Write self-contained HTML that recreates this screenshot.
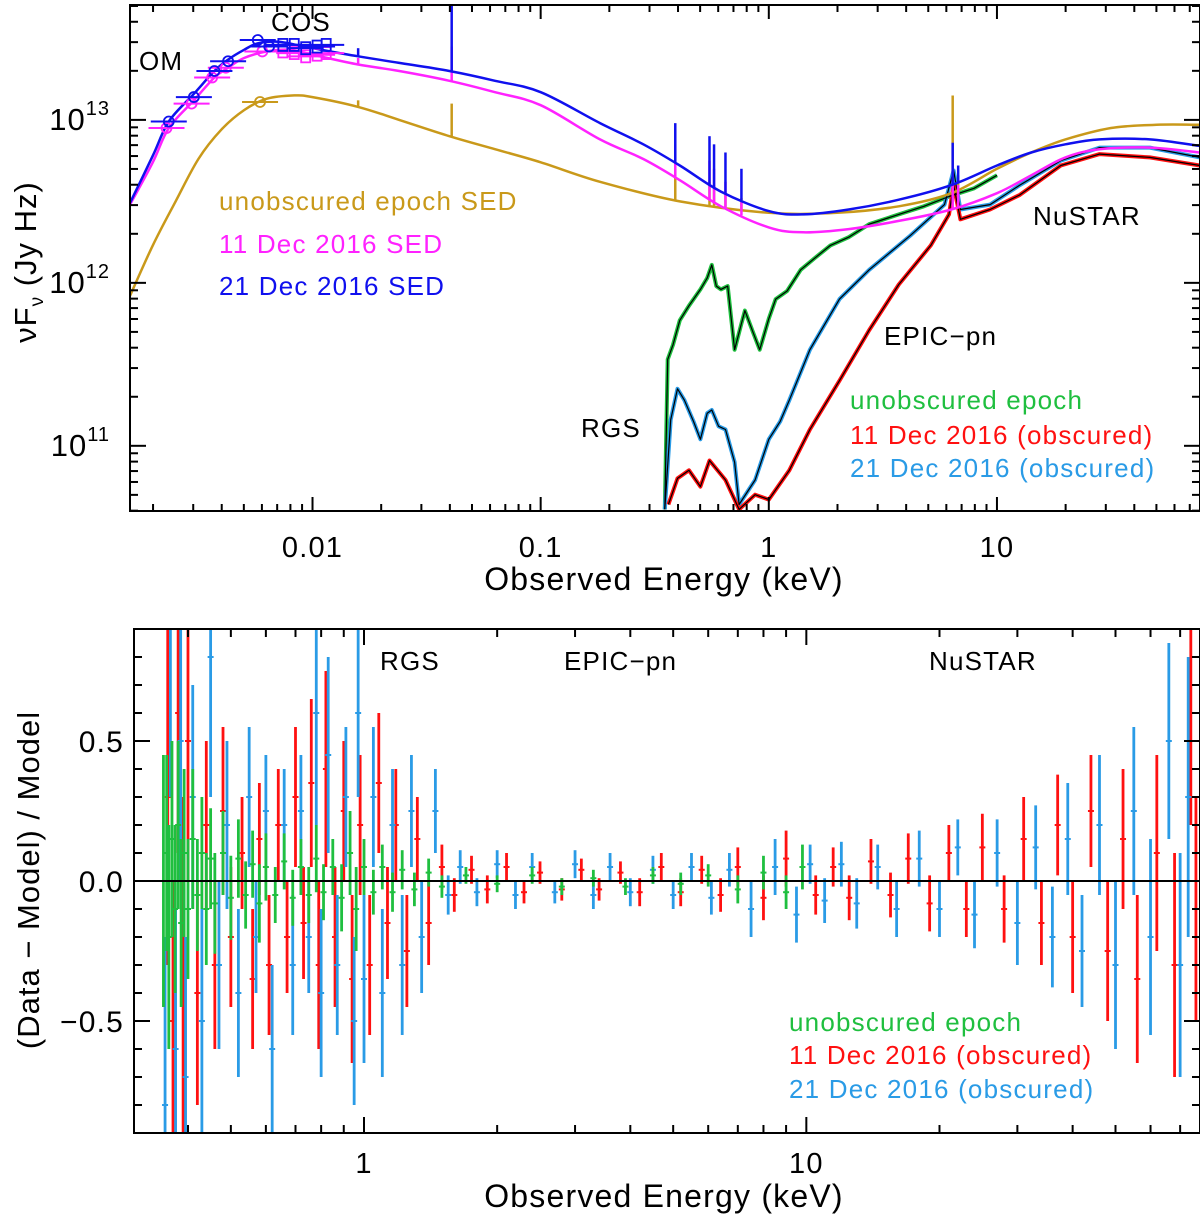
<!DOCTYPE html>
<html><head><meta charset="utf-8"><style>
body{margin:0;background:#fff;}
svg{display:block;font-family:"Liberation Sans",sans-serif;}
</style></head><body>
<svg id="chart" width="1200" height="1220" viewBox="0 0 1200 1220" xmlns="http://www.w3.org/2000/svg"></svg>
<script>
// ---------- TOP PANEL DATA (log10 keV, log10 Jy Hz) ----------
const blueModelE=[-2.80,-2.70,-2.63,-2.52,-2.43,-2.37,-2.30,-2.24,-2.15,-2.00,-1.80,-1.62,-1.40,-1.20,-1.00,-0.74,-0.55,-0.39,-0.21,0.00,0.15,0.35,0.57,0.80,1.00,1.15,1.30,1.45,1.67,1.89];
const blueModelF=[12.49,12.78,12.99,13.16,13.30,13.37,13.43,13.47,13.48,13.44,13.39,13.35,13.30,13.24,13.17,12.98,12.85,12.72,12.56,12.44,12.42,12.45,12.51,12.60,12.72,12.80,12.85,12.88,12.88,12.84];
const magModelE=[-2.80,-2.70,-2.63,-2.52,-2.43,-2.37,-2.30,-2.20,-2.10,-2.00,-1.80,-1.62,-1.40,-1.20,-1.00,-0.74,-0.55,-0.39,-0.21,0.00,0.15,0.35,0.57,0.80,1.00,1.15,1.30,1.45,1.67,1.89];
const magModelF=[12.48,12.74,12.95,13.12,13.26,13.32,13.38,13.42,13.43,13.40,13.34,13.30,13.24,13.17,13.09,12.88,12.76,12.63,12.47,12.34,12.31,12.33,12.38,12.45,12.55,12.66,12.77,12.82,12.83,12.80];
const goldModelE=[-2.80,-2.70,-2.60,-2.50,-2.40,-2.30,-2.20,-2.08,-2.00,-1.80,-1.62,-1.40,-1.20,-1.00,-0.74,-0.39,0.00,0.30,0.57,0.80,1.00,1.15,1.30,1.50,1.70,1.89];
const goldModelF=[11.92,12.23,12.50,12.76,12.94,13.06,13.13,13.15,13.14,13.08,13.00,12.90,12.82,12.74,12.62,12.50,12.43,12.43,12.47,12.55,12.70,12.80,12.88,12.95,12.97,12.97];
const lineE=[-1.80,-1.39,-0.41,-0.26,-0.24,-0.19,-0.12,0.806,0.83];
const blueLineF=[13.44,13.70,12.98,12.90,12.85,12.80,12.70,12.86,12.72];
const magLineF=[13.38,13.45,12.85,12.75,12.70,12.62,12.50,12.66,12.60];
const goldLineF=[13.12,13.10,12.70,12.62,12.60,12.55,12.52,13.15,12.66];
const greenE=[-0.456,-0.443,-0.42,-0.39,-0.35,-0.30,-0.27,-0.25,-0.23,-0.21,-0.18,-0.15,-0.12,-0.105,-0.07,-0.04,0.0,0.03,0.08,0.14,0.20,0.27,0.35,0.44,0.57,0.68,0.79,0.90,1.00];
const greenF=[10.61,11.53,11.62,11.77,11.86,11.96,12.03,12.11,11.98,11.96,11.98,11.59,11.75,11.83,11.70,11.59,11.78,11.90,11.95,12.08,12.15,12.23,12.28,12.36,12.42,12.47,12.53,12.58,12.66];
const ltblueE=[-0.456,-0.43,-0.40,-0.37,-0.33,-0.30,-0.27,-0.25,-0.22,-0.19,-0.15,-0.13,-0.06,0.00,0.05,0.09,0.18,0.31,0.44,0.62,0.77,0.81,0.84,0.97,1.10,1.28,1.45,1.67,1.89];
const ltblueF=[10.61,11.16,11.35,11.28,11.15,11.04,11.20,11.22,11.12,11.10,10.90,10.64,10.79,11.04,11.15,11.28,11.59,11.90,12.08,12.29,12.48,12.69,12.45,12.48,12.60,12.75,12.83,12.83,12.77];
const redE=[-0.44,-0.40,-0.35,-0.30,-0.26,-0.19,-0.13,-0.06,0.00,0.09,0.18,0.31,0.44,0.57,0.71,0.79,0.81,0.84,0.97,1.10,1.28,1.45,1.67,1.89];
const redF=[10.64,10.80,10.85,10.75,10.91,10.79,10.61,10.70,10.67,10.85,11.10,11.40,11.71,11.99,12.23,12.42,12.60,12.39,12.45,12.54,12.72,12.79,12.77,12.72];
const omBlueE=[-2.63,-2.52,-2.43,-2.37,-2.24,-2.19];
const omBlueF=[12.99,13.14,13.30,13.36,13.49,13.45];
const omMagE=[-2.64,-2.53,-2.44,-2.38,-2.22];
const omMagF=[12.95,13.10,13.26,13.32,13.42];
const cosBlueE=[-2.13,-2.08,-2.03,-1.98,-1.94];
const cosBlueF=[13.46,13.46,13.44,13.45,13.46];
const cosMagE=[-2.13,-2.08,-2.03,-1.98,-1.94];
const cosMagF=[13.42,13.41,13.39,13.40,13.41];
const goldPtE=[-2.23]; const goldPtF=[13.11];
const topXTicks=["0.01","0.1","1","10"]; const topXTickLog=[-2,-1,0,1];
const topYTickExp=["11","12","13"];
// ---------- BOTTOM PANEL DATA (keV, residual, error) ----------
const redRE=[0.36,0.37,0.38,0.39,0.40,0.42,0.44,0.46,0.48,0.50,0.53,0.56,0.58,0.61,0.64,0.67,0.70,0.73,0.76,0.79,0.82,0.86,0.90,0.94,0.98,1.03,1.08,1.13,1.18,1.25,1.32,1.40,1.5,1.6,1.75,1.9,2.1,2.3,2.5,2.8,3.1,3.4,3.8,4.2,4.7,5.2,5.8,6.4,7.0,8.0,9.0,10.5,11.5,12.5,14,15.5,17,19,21,23,25,28,31,34,37,40,44,48,52,56,62,68,74,76];
const redR=[0.3,-0.5,0.6,-0.3,0.5,-0.4,0.2,-0.3,0.25,-0.2,0.1,-0.35,0.15,-0.3,0.2,-0.2,0.3,-0.15,0.35,-0.3,0.4,-0.2,0.25,-0.35,0.2,-0.3,0.35,-0.15,0.2,-0.25,0.15,-0.15,0.05,-0.05,0.04,-0.03,0.05,-0.04,0.03,-0.03,0.04,-0.03,0.03,-0.04,0.05,-0.04,0.04,-0.05,0.05,-0.06,0.08,-0.05,0.05,-0.06,0.07,-0.05,0.08,-0.08,0.1,-0.1,0.12,-0.1,0.15,-0.15,0.2,-0.2,0.25,-0.25,0.15,-0.35,0.1,-0.3,0.6,-0.1];
const redErr=[0.6,0.5,0.5,0.6,0.5,0.4,0.3,0.3,0.3,0.25,0.2,0.25,0.2,0.25,0.2,0.2,0.25,0.2,0.3,0.3,0.35,0.25,0.25,0.3,0.25,0.25,0.25,0.2,0.2,0.2,0.15,0.15,0.08,0.06,0.05,0.05,0.05,0.04,0.04,0.04,0.04,0.04,0.04,0.05,0.05,0.05,0.05,0.06,0.07,0.08,0.1,0.07,0.07,0.08,0.08,0.08,0.09,0.1,0.1,0.1,0.12,0.12,0.15,0.15,0.18,0.2,0.2,0.25,0.25,0.3,0.35,0.4,0.4,0.4];
const bluRE=[0.355,0.365,0.375,0.385,0.395,0.41,0.43,0.45,0.47,0.49,0.52,0.55,0.57,0.60,0.62,0.66,0.69,0.72,0.75,0.78,0.80,0.83,0.87,0.91,0.95,0.97,1.0,1.05,1.1,1.16,1.22,1.28,1.35,1.45,1.55,1.65,1.8,2.0,2.2,2.4,2.7,3.0,3.3,3.6,4.0,4.5,5.0,5.5,6.1,6.7,7.5,8.5,9.5,10.2,11,12,13,14.5,16,18,20,22,24,27,30,33,36,39,42,46,50,55,60,66,70,73];
const bluR=[-0.8,0.9,-0.6,0.5,-0.7,0.3,-0.5,0.8,-0.3,0.2,-0.4,0.3,-0.2,0.25,-0.6,0.2,-0.3,0.25,-0.2,0.6,-0.4,0.45,-0.3,0.3,-0.5,0.6,-0.35,0.3,-0.4,0.2,-0.3,0.25,-0.2,0.25,-0.05,0.05,-0.04,0.06,-0.05,0.05,-0.04,0.06,-0.05,0.05,-0.04,0.04,-0.05,0.05,-0.06,0.04,-0.1,0.05,-0.12,0.06,-0.07,0.06,-0.08,0.05,-0.1,0.08,-0.1,0.12,-0.12,0.1,-0.15,0.12,-0.2,0.15,-0.25,0.2,-0.3,0.25,-0.2,0.5,-0.3,0.3];
const bluErr=[0.6,0.6,0.5,0.5,0.5,0.4,0.4,0.5,0.3,0.3,0.3,0.25,0.2,0.2,0.3,0.2,0.25,0.2,0.2,0.4,0.3,0.35,0.25,0.25,0.3,0.3,0.3,0.25,0.3,0.2,0.25,0.2,0.2,0.15,0.07,0.06,0.05,0.05,0.05,0.05,0.04,0.05,0.05,0.05,0.05,0.05,0.05,0.05,0.06,0.06,0.1,0.1,0.1,0.07,0.08,0.08,0.09,0.08,0.1,0.1,0.1,0.1,0.12,0.12,0.15,0.15,0.18,0.2,0.2,0.25,0.3,0.3,0.35,0.35,0.4,0.5];
const grnRE=[0.352,0.358,0.362,0.368,0.374,0.38,0.386,0.392,0.40,0.41,0.42,0.43,0.44,0.45,0.46,0.48,0.50,0.52,0.54,0.56,0.58,0.60,0.63,0.66,0.69,0.72,0.75,0.78,0.81,0.85,0.89,0.93,0.96,1.0,1.05,1.1,1.16,1.22,1.3,1.4,1.5,1.7,2.0,2.4,2.8,3.3,3.9,4.5,5.2,6.0,7.0,8.0,9.0,9.8];
const grnR=[0.0,0.1,-0.2,0.15,-0.1,0.2,-0.15,0.1,-0.1,0.15,-0.05,0.1,-0.1,0.08,-0.08,0.1,-0.06,0.08,-0.05,0.06,-0.08,0.05,-0.05,0.07,-0.06,0.05,-0.05,0.08,-0.04,0.05,-0.06,0.1,-0.1,0.05,-0.04,0.05,-0.04,0.04,-0.03,0.03,-0.02,0.02,-0.01,0.02,-0.02,0.01,-0.02,0.02,-0.01,0.02,-0.03,0.03,-0.04,0.05];
const grnErr=[0.45,0.35,0.4,0.35,0.3,0.3,0.3,0.3,0.25,0.25,0.2,0.2,0.2,0.18,0.18,0.15,0.15,0.14,0.12,0.12,0.14,0.12,0.1,0.1,0.1,0.1,0.1,0.12,0.1,0.1,0.12,0.15,0.15,0.1,0.08,0.08,0.07,0.07,0.06,0.05,0.04,0.03,0.03,0.03,0.03,0.03,0.03,0.03,0.04,0.04,0.05,0.06,0.06,0.08];
const botXTicks=["1","10"]; const botXTickVal=[1,10];
const botYTicks=["\u22120.5","0.0","0.5"]; const botYTickVal=[-0.5,0,0.5];

// ---------- AXIS FUNCTIONS ----------
const T={x0:130,x1:1200,y0:5,y1:511,e0:-2.8,e1:1.89,f0:10.6,f1:13.705};
function tx(le){return T.x0+(le-T.e0)/(T.e1-T.e0)*(T.x1-T.x0);}
function ty(lf){return T.y0+(T.f1-lf)/(T.f1-T.f0)*(T.y1-T.y0);}
const B={x0:134,x1:1200,y0:629,y1:1133,e0:-0.52,e1:1.89,r0:-0.9,r1:0.9};
function bx(e){return B.x0+(Math.log10(e)-B.e0)/(B.e1-B.e0)*(B.x1-B.x0);}
function by(r){return B.y0+(B.r1-r)/(B.r1-B.r0)*(B.y1-B.y0);}

const svg=document.getElementById('chart');
const NS='http://www.w3.org/2000/svg';
function mk(tag,attrs,parent){const el=document.createElementNS(NS,tag);for(const k in attrs)el.setAttribute(k,attrs[k]);(parent||svg).appendChild(el);return el;}
function txt(s,x,y,size,fill,anchor,parent){const el=mk('text',{x:x,y:y,'font-size':size,fill:fill,'text-anchor':anchor||'start','letter-spacing':'1.2'},parent);el.textContent=s;return el;}

const defs=mk('defs',{});
const c1=mk('clipPath',{id:'ct'},defs);mk('rect',{x:T.x0,y:T.y0,width:T.x1-T.x0,height:T.y1-T.y0},c1);
const c2=mk('clipPath',{id:'cb'},defs);mk('rect',{x:B.x0,y:B.y0,width:B.x1-B.x0,height:B.y1-B.y0},c2);

// ===== TOP PANEL =====
const gTop=mk('g',{'clip-path':'url(#ct)'});


function poly(E,F,color,w,name,g){const p=mk('polyline',{points:E.map((e,i)=>tx(e).toFixed(1)+','+ty(F[i]).toFixed(1)).join(' '),fill:'none',stroke:color,'stroke-width':w,'stroke-linejoin':'round'},g);

return p;}
function smooth(E,F,color,w,name,g){const P=E.map((e,i)=>[tx(e),ty(F[i])]);let d='M'+P[0][0].toFixed(1)+','+P[0][1].toFixed(1);
for(let i=0;i<P.length-1;i++){const p0=P[Math.max(0,i-1)],p1=P[i],p2=P[i+1],p3=P[Math.min(P.length-1,i+2)];
const c1x=p1[0]+(p2[0]-p0[0])/6,c1y=p1[1]+(p2[1]-p0[1])/6,c2x=p2[0]-(p3[0]-p1[0])/6,c2y=p2[1]-(p3[1]-p1[1])/6;
d+=' C'+c1x.toFixed(1)+','+c1y.toFixed(1)+' '+c2x.toFixed(1)+','+c2y.toFixed(1)+' '+p2[0].toFixed(1)+','+p2[1].toFixed(1);}
const p=mk('path',{d:d,fill:'none',stroke:color,'stroke-width':w},g);

return p;}
function interp(E,F,e){for(let i=0;i<E.length-1;i++){if(e>=E[i]&&e<=E[i+1]){return F[i]+(F[i+1]-F[i])*(e-E[i])/(E[i+1]-E[i]);}}return F[F.length-1];}
function spikes(F,color,modelE,modelF,name,g){lineE.forEach((e,i)=>{let base=interp(modelE,modelF,e);const l=mk('line',{x1:tx(e),x2:tx(e),y1:ty(base),y2:ty(F[i]),stroke:color,'stroke-width':2.5},g);

});}
poly(greenE,greenF,'#1fbf3f',4,'unobscured-xray-spectrum',gTop);
poly(ltblueE,ltblueF,'#2a9be6',4,'dec21-xray-spectrum',gTop);
poly(redE,redF,'#ff1010',4,'dec11-xray-spectrum',gTop);
poly(greenE,greenF,'#000',1.2,'unobscured-xray-model',gTop);
poly(ltblueE,ltblueF,'#000',1.2,'dec21-xray-model',gTop);
poly(redE,redF,'#000',1.2,'dec11-xray-model',gTop);
smooth(goldModelE,goldModelF,'#c9991a',2.5,'unobscured-sed-curve',gTop);
spikes(goldLineF,'#c9991a',goldModelE,goldModelF,'unobscured-sed-line',gTop);
smooth(magModelE,magModelF,'#ff22ff',2.5,'dec11-sed-curve',gTop);
spikes(magLineF,'#ff22ff',magModelE,magModelF,'dec11-sed-line',gTop);
smooth(blueModelE,blueModelF,'#1010ee',2.5,'dec21-sed-curve',gTop);
spikes(blueLineF,'#1010ee',blueModelE,blueModelF,'dec21-sed-line',gTop);
function pts(E,F,color,shape,name){E.forEach((e,i)=>{const x=tx(e),y=ty(F[i]);
const g=mk('g',{},gTop);


mk('line',{x1:x-18,x2:x+18,y1:y,y2:y,stroke:color,'stroke-width':2},g);
if(shape==='c')mk('circle',{cx:x,cy:y,r:5,fill:'none',stroke:color,'stroke-width':1.8},g);
else mk('rect',{x:x-4.5,y:y-6,width:9,height:12,fill:'none',stroke:color,'stroke-width':1.8},g);});}
pts(omMagE,omMagF,'#ff22ff','c','om-point-dec11');
pts(cosMagE,cosMagF,'#ff22ff','s','cos-point-dec11');
pts(omBlueE,omBlueF,'#1010ee','c','om-point-dec21');
pts(cosBlueE,cosBlueF,'#1010ee','s','cos-point-dec21');
pts(goldPtE,goldPtF,'#c9991a','c','unobscured-uv-point');

const fr1=mk('rect',{x:T.x0,y:T.y0,width:T.x1-T.x0,height:T.y1-T.y0,fill:'none',stroke:'#000','stroke-width':2});


for(let d=-3;d<=1;d++)for(let k=1;k<=9;k++){const le=d+Math.log10(k);if(le<T.e0||le>T.e1)continue;const x=tx(le),L=k===1?14:7;
mk('line',{x1:x,x2:x,y1:T.y1,y2:T.y1-L,stroke:'#000','stroke-width':2});mk('line',{x1:x,x2:x,y1:T.y0,y2:T.y0+L,stroke:'#000','stroke-width':2});}
for(let d=10;d<=13;d++)for(let k=1;k<=9;k++){const lf=d+Math.log10(k);if(lf<T.f0||lf>T.f1)continue;const y=ty(lf),L=k===1?16:8;
mk('line',{x1:T.x0,x2:T.x0+L,y1:y,y2:y,stroke:'#000','stroke-width':2});mk('line',{x1:T.x1,x2:T.x1-L,y1:y,y2:y,stroke:'#000','stroke-width':2});}
topXTicks.forEach((s,i)=>{const t=txt(s,tx(topXTickLog[i]),557,29,'#000','middle');

});
topYTickExp.forEach(s=>{const y=ty(+s);const t=mk('text',{x:110,y:y+10,'font-size':31,fill:'#000','text-anchor':'end','letter-spacing':'1'});


t.appendChild(document.createTextNode('10'));const sp=mk('tspan',{dy:-15,'font-size':20},t);sp.textContent=s;});
const tX=txt('Observed Energy (keV)',664,590,32,'#000','middle');


const tY=mk('text',{x:0,y:0,'font-size':31,fill:'#000','text-anchor':'middle','letter-spacing':'1',transform:'translate(36,262) rotate(-90)'});


tY.appendChild(document.createTextNode('\u03BDF'));const sb=mk('tspan',{dy:7,'font-size':19},tY);sb.textContent='\u03BD';const sb2=mk('tspan',{dy:-7,'font-size':31},tY);sb2.textContent=' (Jy Hz)';
const annTop=[['OM',139,70],['COS',271,31],['NuSTAR',1033,225],['EPIC\u2212pn',884,345],['RGS',581,437]];
annTop.forEach(a=>{const t=txt(a[0],a[1],a[2],26,'#000');

});
const legTop=[['unobscured epoch SED',219,210,'#c9991a'],['11 Dec 2016 SED',219,253,'#ff22ff'],['21 Dec 2016 SED',219,295,'#1010ee'],['unobscured epoch',850,409,'#1fbf3f'],['11 Dec 2016 (obscured)',850,444,'#ff1010'],['21 Dec 2016 (obscured)',850,477,'#2a9be6']];
legTop.forEach(a=>{const t=txt(a[0],a[1],a[2],26,a[3]);

});

// ===== BOTTOM PANEL =====
const gBot=mk('g',{'clip-path':'url(#cb)'});


function bars(E,R,Er,color,name){E.forEach((e,i)=>{const x=bx(e),g=mk('g',{},gBot);


mk('line',{x1:x,x2:x,y1:by(R[i]+Er[i]),y2:by(R[i]-Er[i]),stroke:color,'stroke-width':2.8},g);
mk('line',{x1:x-3,x2:x+3,y1:by(R[i]),y2:by(R[i]),stroke:color,'stroke-width':2},g);});}
bars(redRE,redR,redErr,'#ff1010','dec11-residual');
bars(bluRE,bluR,bluErr,'#2a9be6','dec21-residual');
bars(grnRE,grnR,grnErr,'#1fbf3f','unobscured-residual');
const zl=mk('line',{x1:B.x0,x2:B.x1,y1:by(0),y2:by(0),stroke:'#000','stroke-width':2});


const fr2=mk('rect',{x:B.x0,y:B.y0,width:B.x1-B.x0,height:B.y1-B.y0,fill:'none',stroke:'#000','stroke-width':2});


for(let d=-1;d<=1;d++)for(let k=1;k<=9;k++){const v=k*Math.pow(10,d);const le=Math.log10(v);if(le<B.e0||le>B.e1)continue;const x=bx(v),L=k===1?16:8;
mk('line',{x1:x,x2:x,y1:B.y1,y2:B.y1-L,stroke:'#000','stroke-width':2});mk('line',{x1:x,x2:x,y1:B.y0,y2:B.y0+L,stroke:'#000','stroke-width':2});}
for(let j=-8;j<=8;j++){const r=j/10,y=by(r),L=(j%5===0)?16:8;
mk('line',{x1:B.x0,x2:B.x0+L,y1:y,y2:y,stroke:'#000','stroke-width':2});mk('line',{x1:B.x1,x2:B.x1-L,y1:y,y2:y,stroke:'#000','stroke-width':2});}
botXTicks.forEach((s,i)=>{const t=txt(s,bx(botXTickVal[i]),1173,29,'#000','middle');

});
botYTicks.forEach((s,i)=>{const t=txt(s,124,by(botYTickVal[i])+11,30,'#000','end');

});
const bX=txt('Observed Energy (keV)',664,1207,32,'#000','middle');


const bY=mk('text',{x:0,y:0,'font-size':31,fill:'#000','text-anchor':'middle','letter-spacing':'1',transform:'translate(39,880) rotate(-90)'});


bY.textContent='(Data \u2212 Model) / Model';
const annBot=[['RGS',380,670],['EPIC\u2212pn',564,670],['NuSTAR',929,670]];
annBot.forEach(a=>{const t=txt(a[0],a[1],a[2],26,'#000');

});
const legBot=[['unobscured epoch',789,1031,'#1fbf3f'],['11 Dec 2016 (obscured)',789,1064,'#ff1010'],['21 Dec 2016 (obscured)',789,1098,'#2a9be6']];
legBot.forEach(a=>{const t=txt(a[0],a[1],a[2],26,a[3]);

});
</script>
</body></html>
